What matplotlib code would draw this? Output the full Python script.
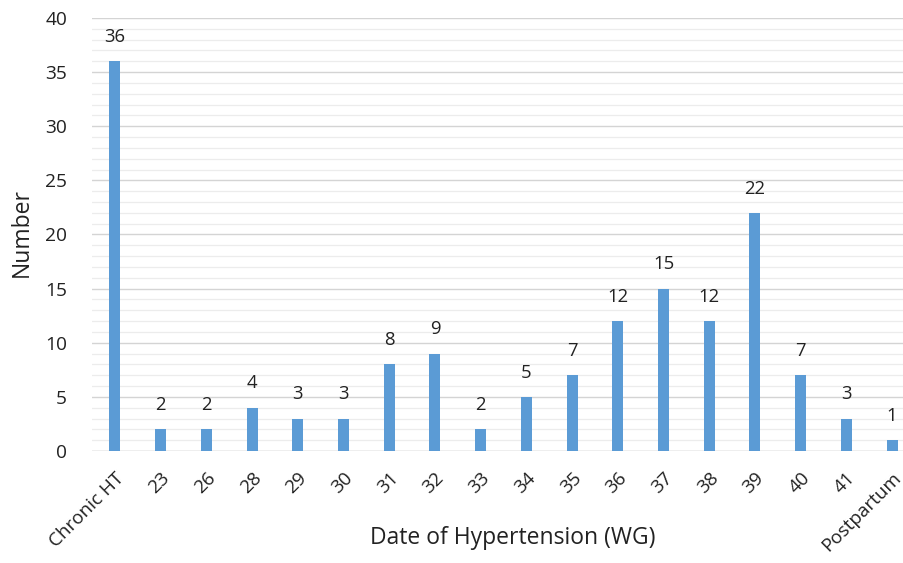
import matplotlib
matplotlib.use("Agg")
import matplotlib.pyplot as plt
from matplotlib.ticker import MultipleLocator

categories = ["Chronic HT", "23", "26", "28", "29", "30", "31", "32", "33", "34",
              "35", "36", "37", "38", "39", "40", "41", "Postpartum"]
values = [36, 2, 2, 4, 3, 3, 8, 9, 2, 5, 7, 12, 15, 12, 22, 7, 3, 1]

plt.rcParams['font.family'] = ['Open Sans', 'DejaVu Sans']

fig = plt.figure(figsize=(9.04, 5.63), dpi=100)
ax = fig.add_axes([92/904, 1-451/563, (915-92)/904, (451-18)/563])

x = list(range(len(categories)))
ax.bar(x, values, width=0.24, color="#5B9BD5", zorder=3)

for xi, v in zip(x, values):
    ax.annotate(str(v), (xi, v), xytext=(0, 11), textcoords="offset points",
                ha="center", va="bottom", fontsize=13.3, color="#222222")

ax.set_xlim(-0.5, 17.5)
ax.set_ylim(0, 40)
ax.yaxis.set_major_locator(MultipleLocator(5))
ax.yaxis.set_minor_locator(MultipleLocator(1))
ax.grid(axis="y", which="major", color="#d4d4d4", linewidth=1.0, zorder=0)
ax.grid(axis="y", which="minor", color="#ececec", linewidth=0.9, zorder=0)
for s in ax.spines.values():
    s.set_visible(False)
ax.axhline(0, color="#d0d0d0", linewidth=1.0, zorder=1)
ax.tick_params(axis="both", which="both", length=0)
ax.tick_params(axis="y", labelsize=13.8, pad=18, labelcolor="#222222")

ax.set_xticks(x)
ax.set_xticklabels(categories, rotation=45, ha="right", va="top",
                   rotation_mode="anchor", fontsize=13.6, color="#222222")
ax.tick_params(axis="x", pad=13)

fig.text(513/904, 1-538/563, "Date of Hypertension (WG)", ha="center", va="center",
         fontsize=16.5, color="#222222")
fig.text(22/904, 1-233/563, "Number", ha="center", va="center", rotation=90,
         fontsize=16.5, color="#222222")

fig.savefig("out.png", dpi=100)
